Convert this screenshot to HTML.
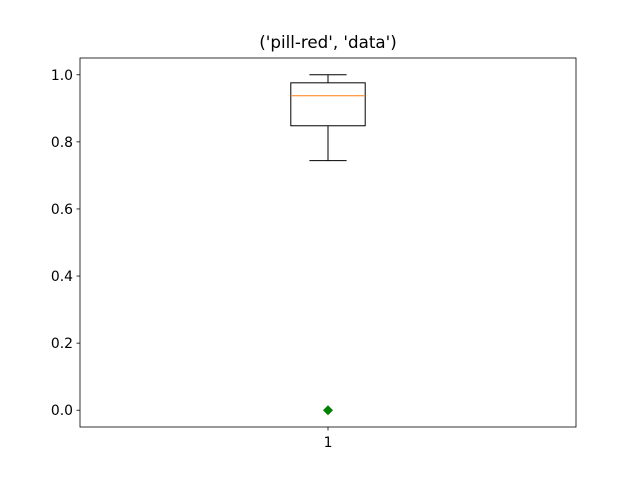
<!DOCTYPE html>
<html><head><meta charset="utf-8"><style>body{margin:0;background:#fff}svg{display:block;font-family:"DejaVu Sans","Liberation Sans",sans-serif}</style></head>
<body>
<svg id="chart" width="640" height="480"></svg>
<script>
const categories = ["1"];
const q1Values = [0.848];
const medianValues = [0.9375];
const q3Values = [0.976];
const whiskerLow = [0.744];
const whiskerHigh = [1.0];
const outlierValues = [[0.0]];
const yTicks = [0.0, 0.2, 0.4, 0.6, 0.8, 1.0];
const yTickLabels = ["0.0", "0.2", "0.4", "0.6", "0.8", "1.0"];

const NS = "http://www.w3.org/2000/svg";
const svg = document.getElementById("chart");
const L = 80, R = 576, T = 58, B = 427;
const yMin = -0.05, yMax = 1.05, xMin = 0.5, xMax = categories.length + 0.5;
const ys = v => B - (v - yMin) / (yMax - yMin) * (B - T);
const xs = v => L + (v - xMin) / (xMax - xMin) * (R - L);
function mk(tag, attrs, parent) {
  const e = document.createElementNS(NS, tag);
  for (const k in attrs) e.setAttribute(k, attrs[k]);
  (parent || svg).appendChild(e);
  return e;
}
let t = mk("text", {x: 328, y: 48, "text-anchor": "middle", "font-size": 16.7});
t.textContent = "('pill-red', 'data')";



yTicks.forEach((v, i) => {
  const y = ys(v);
  const tk = mk("line", {x1: L - 3.5, x2: L, y1: y, y2: y, stroke: "#000", "stroke-width": 0.8});
  
  
  const lb = mk("text", {x: L - 7, y: y + 5, "text-anchor": "end", "font-size": 13.9});
  lb.textContent = yTickLabels[i];
  
  
});

categories.forEach((c, i) => {
  const cx = xs(i + 1), hw = (xs(i + 1.075) - xs(i + 1)), cw = hw / 2;
  const g = mk("g", {});
  
  
  mk("line", {x1: cx, x2: cx, y1: ys(q1Values[i]), y2: ys(whiskerLow[i]), stroke: "#000", "stroke-width": 1}, g);
  mk("line", {x1: cx, x2: cx, y1: ys(q3Values[i]), y2: ys(whiskerHigh[i]), stroke: "#000", "stroke-width": 1}, g);
  mk("line", {x1: cx - cw, x2: cx + cw, y1: ys(whiskerLow[i]), y2: ys(whiskerLow[i]), stroke: "#000", "stroke-width": 1}, g);
  mk("line", {x1: cx - cw, x2: cx + cw, y1: ys(whiskerHigh[i]), y2: ys(whiskerHigh[i]), stroke: "#000", "stroke-width": 1}, g);
  mk("rect", {x: cx - hw, y: ys(q3Values[i]), width: 2 * hw, height: ys(q1Values[i]) - ys(q3Values[i]), fill: "none", stroke: "#000", "stroke-width": 1}, g);
  mk("line", {x1: cx - hw, x2: cx + hw, y1: ys(medianValues[i]), y2: ys(medianValues[i]), stroke: "#ff7f0e", "stroke-width": 1}, g);
  outlierValues[i].forEach(v => {
    const y = ys(v);
    const d = mk("polygon", {points: `${cx},${y-5} ${cx+5},${y} ${cx},${y+5} ${cx-5},${y}`, fill: "green"});
    
    
  });
  const x = cx;
  const tk = mk("line", {x1: x, x2: x, y1: B, y2: B + 3.5, stroke: "#000", "stroke-width": 0.8});
  
  
  const lb = mk("text", {x: x, y: B + 20, "text-anchor": "middle", "font-size": 13.9});
  lb.textContent = c;
  
  
});

const frame = mk("rect", {x: L, y: T, width: R - L, height: B - T, fill: "none", stroke: "#000", "stroke-width": 0.8});


</script>
</body></html>
